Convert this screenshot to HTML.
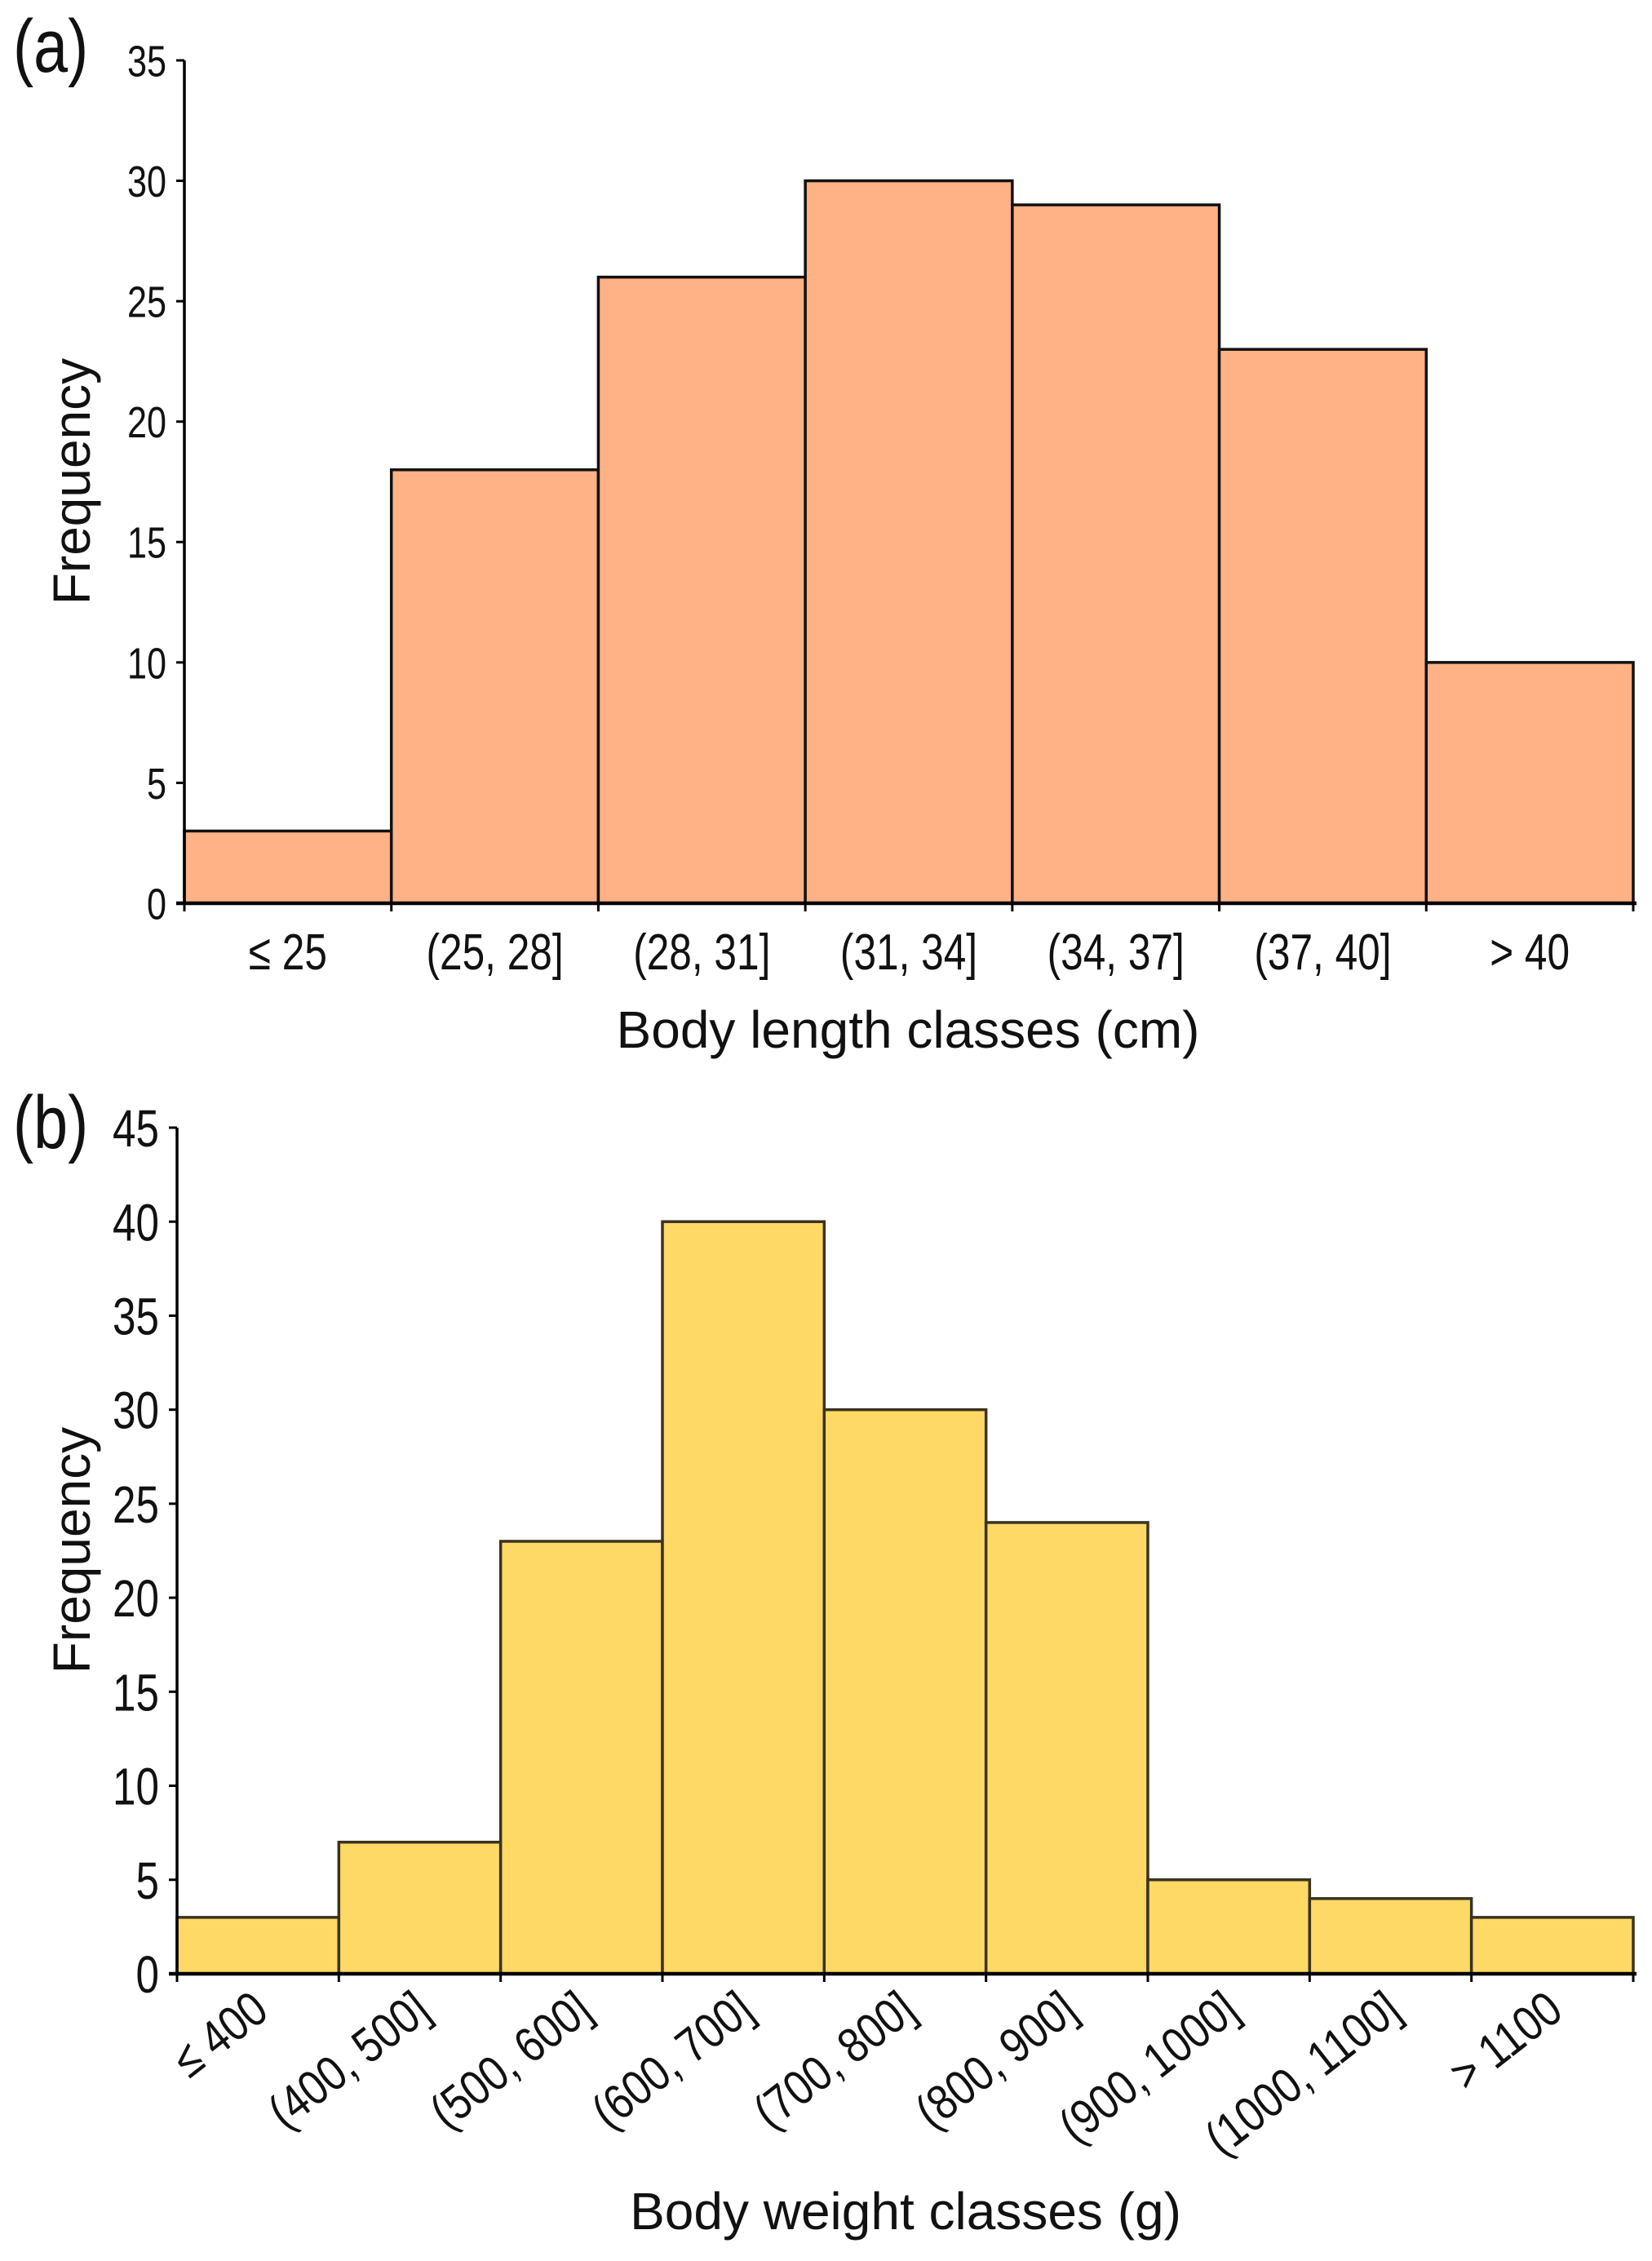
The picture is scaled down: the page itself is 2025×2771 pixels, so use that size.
<!DOCTYPE html>
<html><head><meta charset="utf-8"><style>
html,body{margin:0;padding:0;background:#fff;}
svg{display:block;font-family:"Liberation Sans",Arial,sans-serif;}
</style></head><body>
<svg id="fig" width="2025" height="2771" viewBox="0 0 2025 2771" xmlns="http://www.w3.org/2000/svg"></svg>
<script>
const catsA = ["≤ 25","(25, 28]","(28, 31]","(31, 34]","(34, 37]","(37, 40]","> 40"];
const valsA = [3,18,26,30,29,23,10];
const ticksA = [0,5,10,15,20,25,30,35];
const catsB = ["≤ 400","(400, 500]","(500, 600]","(600, 700]","(700, 800]","(800, 900]","(900, 1000]","(1000, 1100]","> 1100"];
const valsB = [3,7,23,40,30,24,5,4,3];
const ticksB = [0,5,10,15,20,25,30,35,40,45];

const NS="http://www.w3.org/2000/svg";
const svg=document.getElementById('fig');
function mk(tag,attrs,parent){const e=document.createElementNS(NS,tag);for(const k in attrs)e.setAttribute(k,attrs[k]);(parent||svg).appendChild(e);return e;}

function panel(cfg){
  const g=mk('g',{});
  
  
  const yMax=cfg.ticks[cfg.ticks.length-1];
  const ys=v=>cfg.y0-(cfg.y0-cfg.yTop)*v/yMax;
  const bw=(cfg.x1-cfg.x0)/cfg.cats.length;
  const xs=i=>cfg.x0+i*bw;
  cfg.vals.forEach((v,i)=>{
    const r=mk('rect',{x:xs(i),y:ys(v),width:bw,height:cfg.y0-ys(v),fill:cfg.fill,stroke:cfg.stroke,'stroke-width':3.5},g);
    
    
  });
  const ya=mk('line',{x1:cfg.x0,y1:cfg.yTop,x2:cfg.x0,y2:cfg.y0,stroke:'#000','stroke-width':3.5},g);
  
  
  const xa=mk('line',{x1:cfg.x0-10,y1:cfg.y0,x2:cfg.x1+4,y2:cfg.y0,stroke:'#000','stroke-width':4.5},g);
  
  
  cfg.ticks.forEach(t=>{
    mk('line',{x1:cfg.x0-10,y1:ys(t),x2:cfg.x0,y2:ys(t),stroke:'#000','stroke-width':3},g);
    const tx=mk('text',{x:0,y:0,'font-size':cfg.yfs,'text-anchor':'end',fill:'#111',
      transform:`translate(${cfg.x0-22} ${ys(t)+cfg.yfs*0.36}) scale(0.8 1)`},g);
    tx.textContent=t;
    
    
  });
  for(let i=0;i<=cfg.cats.length;i++){
    mk('line',{x1:xs(i),y1:cfg.y0,x2:xs(i),y2:cfg.y0+10,stroke:'#000','stroke-width':3},g);
  }
  cfg.cats.forEach((c,i)=>{
    const cx=xs(i)+bw/2;
    let tx;
    if(cfg.rot){
      const ax=cx+16, ay=cfg.labY;
      tx=mk('text',{x:0,y:0,'font-size':cfg.xfs,'text-anchor':'end',fill:'#111',transform:`translate(${ax} ${ay}) rotate(-38) scale(0.85 1)`},g);
    } else {
      tx=mk('text',{x:0,y:0,'font-size':cfg.xfs,'text-anchor':'middle',fill:'#111',transform:`translate(${cx} ${cfg.labY}) scale(0.8 1)`},g);
    }
    tx.textContent=c;
    
    
  });
  const xt=mk('text',{x:cfg.xtX,y:cfg.xtY,'font-size':64,'text-anchor':'middle',fill:'#111'},g);
  xt.textContent=cfg.xtitle;
  
  
  const yt=mk('text',{x:0,y:0,'font-size':64,'text-anchor':'middle',fill:'#111',transform:`translate(110 ${cfg.ytY}) rotate(-90)`},g);
  yt.textContent='Frequency';
  
  
  const pl=mk('text',{x:0,y:0,'font-size':92,fill:'#111',transform:`translate(16 ${cfg.plY}) scale(0.82 1)`},g);
  pl.textContent=cfg.plabel;
  
  
}

panel({name:'panel-a-body-length',cats:catsA,vals:valsA,ticks:ticksA,x0:226,x1:2002,y0:1107,yTop:74,
  fill:'#FFB285',stroke:'#111',yfs:54,xfs:62,labY:1188,rot:false,xtitle:'Body length classes (cm)',xtX:1113,xtY:1284,ytY:590,plabel:'(a)',plY:88});
panel({name:'panel-b-body-weight',cats:catsB,vals:valsB,ticks:ticksB,x0:217,x1:2002,y0:2419,yTop:1382,
  fill:'#FFD966',stroke:'#3a3320',yfs:64,xfs:60,labY:2470,rot:true,xtitle:'Body weight classes (g)',xtX:1110,xtY:2732,ytY:1900,plabel:'(b)',plY:1407});
</script>
</body></html>
